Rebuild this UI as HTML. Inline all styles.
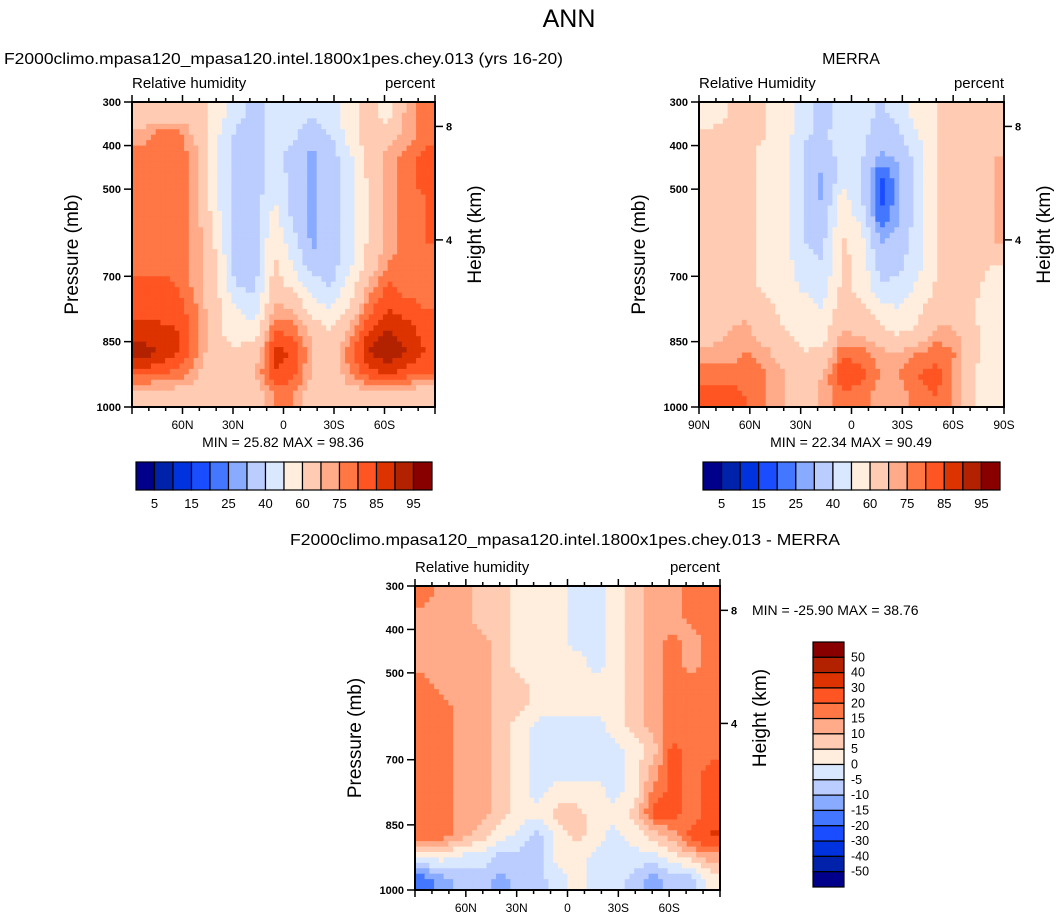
<!DOCTYPE html>
<html><head><meta charset="utf-8"><style>
html,body{margin:0;padding:0;background:#fff;}
svg{display:block;font-family:"Liberation Sans",sans-serif;}
</style></head><body>
<svg id="fig" width="1057" height="921" viewBox="0 0 1057 921" xmlns="http://www.w3.org/2000/svg">
<text x="569" y="27" font-size="25" text-anchor="middle">ANN</text>
<text x="4" y="64" font-size="16" textLength="559" lengthAdjust="spacingAndGlyphs">F2000climo.mpasa120_mpasa120.intel.1800x1pes.chey.013 (yrs 16-20)</text>
<text x="851" y="64" font-size="16" text-anchor="middle">MERRA</text>
<text x="290" y="545" font-size="16" textLength="550" lengthAdjust="spacingAndGlyphs">F2000climo.mpasa120_mpasa120.intel.1800x1pes.chey.013 - MERRA</text>
<text x="752" y="615" font-size="14">MIN = -25.90  MAX =  38.76</text>
</svg>
<script>
const colors = ["#00008a","#0022aa","#0033dd","#1a4dff","#4477ff","#88aaff","#bbccff","#d9e8ff","#ffeedd","#ffccb3","#ffaa88","#ff7744","#ff5522","#dd3300","#b32200","#880000"];
const rhLevels = [5,10,15,20,25,30,40,50,60,70,75,80,85,90,95];
const rhLabels = ["5","15","25","40","60","75","85","95"];
const diffLevels = [-50,-40,-30,-20,-15,-10,-5,0,5,10,15,20,30,40,50];
const diffLabels = ["50","40","30","20","15","10","5","0","-5","-10","-15","-20","-30","-40","-50"];
const pressureTicks = [300,400,500,700,850,1000];
const heightTicks = [8,4];
const latTicks = [90,60,30,0,-30,-60,-90];
const latLabels = ["90N","60N","30N","0","30S","60S","90S"];
const modelRH = [
[65,65,65,65,55,45,35,45,45,40,45,55,65,55,72,77],
[72,78,78,65,52,38,35,45,42,35,40,55,65,65,72,78],
[78,78,78,72,50,35,35,45,35,28,35,48,65,72,78,82],
[78,78,78,72,50,35,35,45,38,28,35,45,62,72,78,82],
[78,78,78,72,50,35,35,50,38,28,35,45,62,72,78,80],
[78,78,78,72,55,35,35,55,38,28,35,45,62,72,78,80],
[78,78,78,72,58,35,35,60,45,28,35,45,62,72,78,80],
[78,78,78,72,60,35,35,62,50,35,35,48,65,75,78,78],
[82,82,80,72,62,40,38,65,58,45,40,55,72,82,78,78],
[82,82,82,75,62,50,45,72,70,55,50,62,78,85,82,80],
[88,87,85,75,62,55,55,80,78,68,60,72,85,90,88,82],
[92,90,85,75,62,62,65,87,85,70,62,78,90,95,90,85],
[82,80,78,70,65,65,70,85,82,70,62,75,82,85,82,80],
[65,65,65,65,62,62,65,75,75,65,62,65,65,65,65,62]];
const merraRH = [
[55,60,60,60,55,45,35,45,45,38,45,55,60,60,60,60],
[62,62,62,60,55,42,38,45,45,32,38,50,60,62,62,65],
[62,62,62,58,55,38,32,45,42,28,32,45,60,62,62,70],
[62,62,62,58,55,38,28,45,40,18,28,45,60,62,62,70],
[62,62,62,58,55,38,28,55,42,18,28,45,60,62,62,70],
[62,62,62,58,55,38,35,58,48,22,30,45,60,62,62,70],
[62,62,62,58,55,40,38,62,55,30,35,45,60,62,62,70],
[62,62,62,58,55,42,40,62,58,35,38,48,60,62,62,60],
[62,62,62,58,55,48,45,62,58,42,42,52,62,62,62,55],
[62,65,68,62,58,55,50,65,62,55,50,58,65,65,60,50],
[65,70,72,65,60,55,55,70,68,62,58,62,72,70,62,50],
[72,72,75,72,65,60,62,78,78,72,70,75,78,75,62,50],
[78,78,78,75,70,65,70,85,82,75,75,80,82,72,60,55],
[82,82,80,75,70,65,72,78,78,72,72,78,80,72,60,50]];
const diffRH = [
[17,12,12,7,7,2,2,2,-2,-2,2,7,12,12,17,17],
[12,12,12,7,7,2,2,2,-2,-2,2,7,12,12,17,17],
[12,12,12,12,7,2,2,2,-2,-2,2,7,12,17,12,17],
[12,12,12,12,7,2,2,2,2,-2,2,7,12,17,12,17],
[17,12,12,12,7,7,2,2,2,2,2,7,12,17,17,17],
[17,17,12,12,7,7,2,2,2,2,2,7,12,17,17,17],
[17,17,12,12,7,2,-2,-2,-2,-2,2,7,12,17,17,17],
[17,17,12,12,7,2,-2,-2,-2,-2,-2,2,7,22,17,17],
[17,17,12,12,7,2,-2,-2,-2,-2,-2,2,12,22,17,22],
[17,17,12,12,7,2,-2,2,2,2,-2,2,17,22,17,22],
[17,17,12,12,7,2,2,7,7,2,2,7,22,22,17,22],
[17,17,12,7,2,-2,-7,2,7,2,-2,2,7,12,22,32],
[2,2,-2,-2,-7,-7,-7,2,2,-2,-2,-2,-2,2,7,12],
[-18,-12,-7,-7,-12,-7,-7,-2,2,-2,-2,-7,-12,-7,-7,2]];

const NS="http://www.w3.org/2000/svg";
const svg=document.getElementById('fig');
function mk(tag,attrs,parent){const e=document.createElementNS(NS,tag);for(const k in attrs)e.setAttribute(k,attrs[k]);(parent||svg).appendChild(e);return e;}
function bin(v,levels){let i=0;while(i<levels.length&&v>=levels[i])i++;return i;}
function sample(grid,r,c){
  const R=grid.length,C=grid[0].length;
  r=Math.max(0,Math.min(R-1,r));c=Math.max(0,Math.min(C-1,c));
  const r0=Math.floor(r),c0=Math.floor(c),r1=Math.min(R-1,r0+1),c1=Math.min(C-1,c0+1);
  const fr=r-r0,fc=c-c0;
  return (grid[r0][c0]*(1-fc)+grid[r0][c1]*fc)*(1-fr)+(grid[r1][c0]*(1-fc)+grid[r1][c1]*fc)*fr;
}

function panel(id,x0,y0,w,h,grid,levels,title,showEnds){
  const g=mk('g',{});
  
  
  const xs=lat=>x0+(90-lat)/180*w;
  const ys=p=>y0+(p-300)/700*h;
  const rows=grid.length, cols=grid[0].length;
  const sub=4;
  for(let r=0;r<rows*sub;r++)for(let c=0;c<cols*sub;c++){
    const latA=90-c*180/(cols*sub), latB=90-(c+1)*180/(cols*sub);
    const pA=300+r*700/(rows*sub), pB=300+(r+1)*700/(rows*sub);
    const v=sample(grid,(r+0.5)/sub-0.5,(c+0.5)/sub-0.5);
    const cell=mk('rect',{x:xs(latA).toFixed(2),y:ys(pA).toFixed(2),width:(xs(latB)-xs(latA)+0.5).toFixed(2),height:(ys(pB)-ys(pA)+0.5).toFixed(2),fill:colors[bin(v,levels)]},g);
    
    
  }
  const fr=mk('rect',{x:x0,y:y0,width:w,height:h,fill:'none',stroke:'#000','stroke-width':2},g);
  
  
  for(let lat=90;lat>=-90;lat-=10){
    const x=xs(lat), major=lat%30===0, L=major?7:4;
    mk('line',{x1:x,x2:x,y1:y0,y2:y0-L,stroke:'#000','stroke-width':1.5},g);
    mk('line',{x1:x,x2:x,y1:y0+h,y2:y0+h+L,stroke:'#000','stroke-width':1.5},g);
  }
  latTicks.forEach((lat,i)=>{
    if(!showEnds&&Math.abs(lat)===90)return;
    const t=mk('text',{x:xs(lat),y:y0+h+22,'font-size':12,'text-anchor':'middle'},g);
    t.textContent=latLabels[i];
    
    
  });
  pressureTicks.forEach(p=>{
    const y=ys(p);
    mk('line',{x1:x0,x2:x0-8,y1:y,y2:y,stroke:'#000','stroke-width':1.5},g);
    const t=mk('text',{x:x0-11,y:y+4,'font-size':11,'font-weight':'bold'},g);
    t.setAttribute('text-anchor','end');
    t.textContent=p;
    
    
  });
  heightTicks.forEach(z=>{
    const p=1013.25*Math.pow(1-z/44.33,5.255);
    const y=ys(p);
    mk('line',{x1:x0+w,x2:x0+w+8,y1:y,y2:y,stroke:'#000','stroke-width':1.5},g);
    const t=mk('text',{x:x0+w+11,y:y+4,'font-size':11,'font-weight':'bold'},g);
    t.textContent=z;
    
    
  });
  const lt=mk('text',{x:x0,y:y0-14,'font-size':15},g);lt.textContent=title;
  
  
  const rt=mk('text',{x:x0+w,y:y0-14,'font-size':15,'text-anchor':'end'},g);rt.textContent='percent';
  
  
  const yl=mk('text',{x:0,y:0,'font-size':19,'text-anchor':'middle',transform:`translate(${x0-54},${y0+h/2}) rotate(-90)`},g);yl.textContent='Pressure (mb)';
  
  
  const hl=mk('text',{x:0,y:0,'font-size':19,'text-anchor':'middle',transform:`translate(${x0+w+46},${y0+h/2-20}) rotate(-90)`},g);hl.textContent='Height (km)';
  
  
}
function hbar(id,x0,y0,w,h){
  const g=mk('g',{});
  
  
  const bw=w/colors.length;
  colors.forEach((c,i)=>{const r=mk('rect',{x:x0+i*bw,y:y0,width:bw,height:h,fill:c,stroke:'#000','stroke-width':1.2},g);
    
    });
  rhLabels.forEach((l,i)=>{const t=mk('text',{x:x0+(2*i+1)*bw,y:y0+h+18,'font-size':13,'text-anchor':'middle'},g);t.textContent=l;
    
    });
}
function vbar(id,x0,y0,w,h){
  const g=mk('g',{});
  
  
  const bh=h/colors.length;
  colors.slice().reverse().forEach((c,i)=>{const r=mk('rect',{x:x0,y:y0+i*bh,width:w,height:bh,fill:c,stroke:'#000','stroke-width':1.2},g);
    
    });
  diffLabels.forEach((l,i)=>{const t=mk('text',{x:x0+w+7,y:y0+(i+1)*bh+4,'font-size':12.5},g);t.textContent=l;
    
    });
}
panel('panel-model',132,102,303,305,modelRH,rhLevels,'Relative humidity',false);
panel('panel-merra',699,102,305,305,merraRH,rhLevels,'Relative Humidity',true);
panel('panel-diff',415,586,305,304,diffRH,diffLevels,'Relative humidity',false);
hbar('colorbar-model',136,462,296,28);
hbar('colorbar-merra',703,462,297,28);
vbar('colorbar-diff',813,642,31,245);
const m1=mk('text',{x:283,y:447,'font-size':14,'text-anchor':'middle'});m1.textContent='MIN =  25.82  MAX =  98.36';


const m2=mk('text',{x:851,y:447,'font-size':14,'text-anchor':'middle'});m2.textContent='MIN =  22.34  MAX =  90.49';


</script>
</body></html>
